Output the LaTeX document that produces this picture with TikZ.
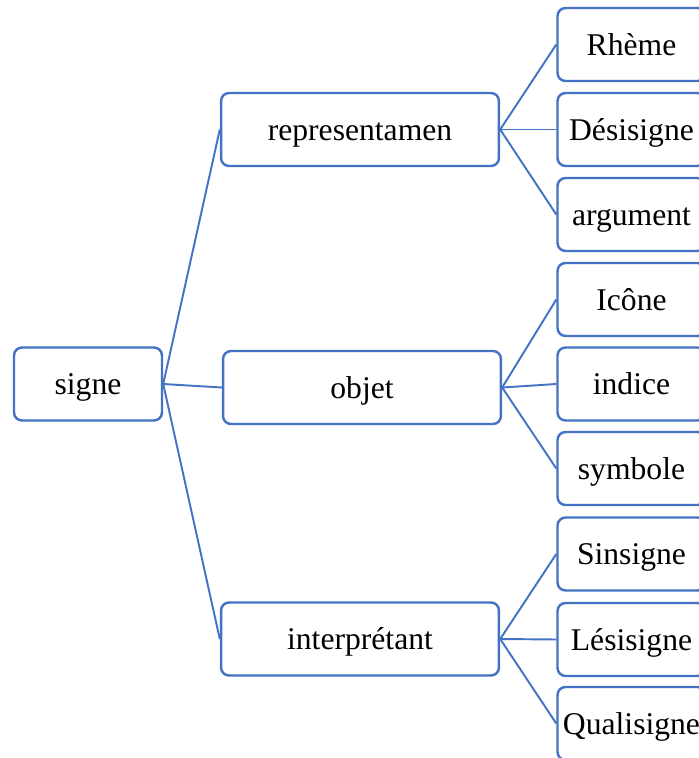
\documentclass[tikz,border=0pt]{standalone}
\usepackage{fontspec}
\setmainfont{Liberation Serif}
\usepackage{tikz}
\definecolor{boxblue}{RGB}{68,114,196}

\begin{document}
\begin{tikzpicture}[x=0.02cm, y=-0.02cm,
		box/.style={draw=boxblue, line width=1.4pt, rounded corners=0.16cm, fill=white,
			inner sep=0pt, minimum height=1.46cm, text height=14pt, text depth=2pt,
			font=\fontsize{18}{22}\selectfont},
		leafbox/.style={box, minimum width=2.96cm},
		midbox/.style={box, minimum width=5.56cm},
		link/.style={draw=boxblue, line width=1.1pt}]
		%%%%% START %%%%%
		\useasboundingbox (0, 0) rectangle (699, 758);
		\clip (0, 0) rectangle (699, 758);
		
		\node[leafbox] (signe) at (88, 384) {signe};
		
		\node[midbox] (repr) at (360, 129.5) {representamen};
		\node[midbox] (objet) at (362, 387.5) {objet};
		\node[midbox] (interp) at (360, 639) {interprétant};
		
		\node[leafbox] (rheme) at (631.5, 44.5) {Rhème};
		\node[leafbox] (desi) at (631.5, 129.5) {Désisigne};
		\node[leafbox] (argu) at (631.5, 214.5) {argument};
		
		\node[leafbox] (icone) at (631.5, 299.5) {Icône};
		\node[leafbox] (indice) at (631.5, 384) {indice};
		\node[leafbox] (symb) at (631.5, 468.5) {symbole};
		
		\node[leafbox] (sinsi) at (631.5, 554) {Sinsigne};
		\node[leafbox] (lesi) at (631.5, 639.5) {Lésisigne};
		\node[leafbox] (quali) at (631.5, 723.5) {Qualisigne};
		
		\draw[link] (signe.east) -- (repr.west);
		\draw[link] (signe.east) -- (objet.west);
		\draw[link] (signe.east) -- (interp.west);
		
		\draw[link] (repr.east) -- (rheme.west);
		\draw[link] (repr.east) -- (desi.west);
		\draw[link] (repr.east) -- (argu.west);
		
		\draw[link] (objet.east) -- (icone.west);
		\draw[link] (objet.east) -- (indice.west);
		\draw[link] (objet.east) -- (symb.west);
		
		\draw[link] (interp.east) -- (sinsi.west);
		\draw[link] (interp.east) -- (lesi.west);
		\draw[link] (interp.east) -- (quali.west);
		%%%%% END %%%%%
\end{tikzpicture}
\end{document}
